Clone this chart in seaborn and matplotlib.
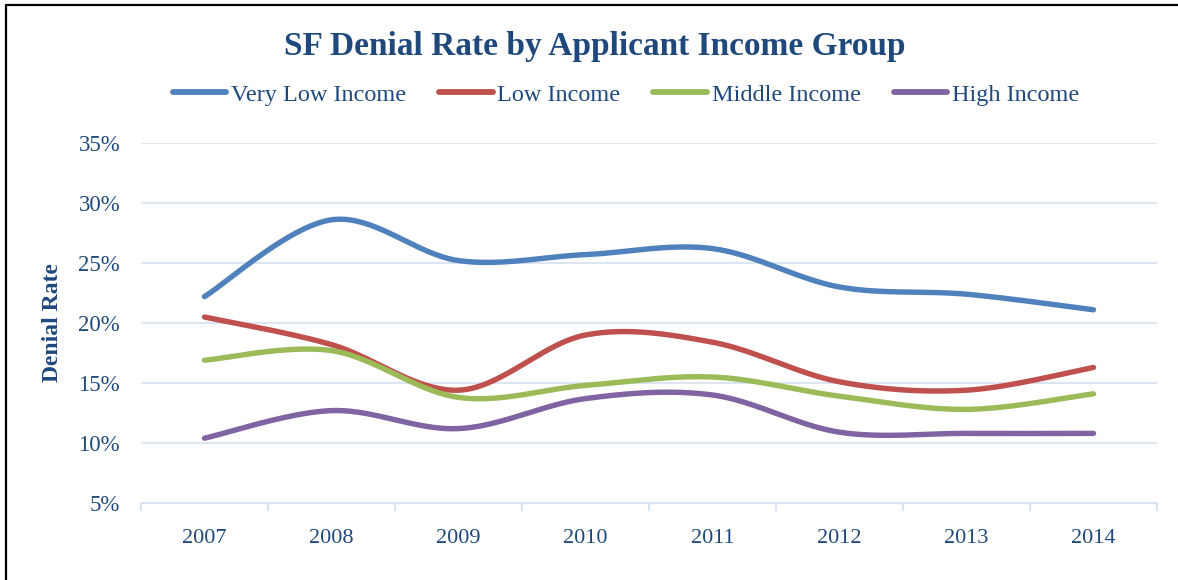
import numpy as np
import pandas as pd
import matplotlib
matplotlib.use("Agg")
import matplotlib.pyplot as plt
import seaborn as sns
from matplotlib.lines import Line2D
from matplotlib.ticker import FuncFormatter, FixedLocator

# Denial rate (%) by applicant income group, San Francisco
years = ["2007", "2008", "2009", "2010", "2011", "2012", "2013", "2014"]
very_low_income = [22.2, 28.6, 25.2, 25.7, 26.2, 23.0, 22.4, 21.1]
low_income = [20.5, 18.2, 14.4, 19.0, 18.4, 15.1, 14.4, 16.3]
middle_income = [16.9, 17.7, 13.8, 14.8, 15.5, 13.9, 12.8, 14.1]
high_income = [10.4, 12.7, 11.2, 13.7, 14.0, 10.9, 10.8, 10.8]

series_names = ["Very Low Income", "Low Income", "Middle Income", "High Income"]
series_values = [very_low_income, low_income, middle_income, high_income]
colors = ["#4F81BD", "#C0504D", "#9BBB59", "#8064A2"]

TEXT = "#1F497D"
GRID = "#D9E3F1"
SERIF = ["Liberation Serif", "DejaVu Serif"]


def smoothed(xs, ys, steps=40):
    """Bezier smoothing through every point (spreadsheet-style smoothed line)."""
    pts = np.column_stack([xs, ys]).astype(float)
    n = len(pts)
    out = []
    t = np.linspace(0, 1, steps)[:, None]
    for i in range(n - 1):
        p0 = pts[i - 1] if i > 0 else pts[i]
        p1, p2 = pts[i], pts[i + 1]
        p3 = pts[i + 2] if i + 2 < n else pts[i + 1]
        c1 = p1 + (p2 - p0) / 6.0
        c2 = p2 - (p3 - p1) / 6.0
        seg = ((1 - t) ** 3) * p1 + 3 * ((1 - t) ** 2) * t * c1 \
            + 3 * (1 - t) * t ** 2 * c2 + t ** 3 * p2
        out.append(seg if i == 0 else seg[1:])
    return np.vstack(out)


x_idx = np.arange(len(years))
frames = []
for name, vals in zip(series_names, series_values):
    curve = smoothed(x_idx, vals)
    frames.append(pd.DataFrame({"x": curve[:, 0], "rate": curve[:, 1],
                                "group": name}))
df = pd.concat(frames, ignore_index=True)

sns.set_theme(style="white")
plt.rcParams["font.family"] = SERIF

fig = plt.figure(figsize=(11.78, 5.80), dpi=100)
ax = fig.add_axes([141 / 1178, 77 / 580, 1016 / 1178, 360 / 580])

sns.lineplot(data=df, x="x", y="rate", hue="group", hue_order=series_names,
             palette=colors, sort=False, estimator=None, linewidth=3.9,
             ax=ax, legend=False)
for ln in ax.get_lines():
    ln.set_solid_capstyle("round")
    ln.set_solid_joinstyle("round")

ax.set_xlim(-0.5, len(years) - 0.5)
ax.set_ylim(5, 35)
ax.set_yticks(np.arange(5, 36, 5))
ax.yaxis.set_major_formatter(FuncFormatter(lambda v, _: f"{v:.0f}%"))
ax.set_xticks(x_idx)
ax.set_xticklabels(years)
ax.xaxis.set_minor_locator(FixedLocator(np.arange(-0.5, len(years), 1.0)))

ax.grid(axis="y", color=GRID, linewidth=1.3)
ax.set_axisbelow(True)
for side in ["left", "right", "top"]:
    ax.spines[side].set_visible(False)
ax.spines["bottom"].set_color(GRID)
ax.spines["bottom"].set_linewidth(1.5)

ax.tick_params(axis="x", which="major", bottom=False, length=0, pad=19,
               labelsize=16, labelcolor=TEXT)
ax.tick_params(axis="x", which="minor", bottom=True, length=6, width=1.5,
               color=GRID, direction="out")
ax.tick_params(axis="y", left=False, length=0, pad=15, labelsize=16.5,
               labelcolor=TEXT)

ax.set_xlabel("")
ax.set_ylabel("Denial Rate", fontsize=17, fontweight="bold", color=TEXT,
              labelpad=11)

fig.text(0.505, 1 - 46 / 580, "SF Denial Rate by Applicant Income Group",
         ha="center", va="center", fontsize=24, fontweight="bold", color=TEXT)

handles = [Line2D([0], [0], color=c, linewidth=4.2, solid_capstyle="round")
           for c in colors]
fig.legend(handles, series_names, loc="center", ncol=4,
           bbox_to_anchor=(626 / 1178, 1 - 95 / 580), frameon=False,
           fontsize=17.5, labelcolor=TEXT, handlelength=2.2,
           handletextpad=0.2, columnspacing=1.35)

# Partial frame around the figure (left and top edges)
fig.add_artist(Line2D([6 / 1178, 6 / 1178], [0, 1 - 5 / 580],
                      transform=fig.transFigure, color="black", linewidth=1.6))
fig.add_artist(Line2D([6 / 1178, 1], [1 - 5 / 580, 1 - 5 / 580],
                      transform=fig.transFigure, color="black", linewidth=1.6))

fig.savefig("out.png", dpi=100, facecolor="white")
